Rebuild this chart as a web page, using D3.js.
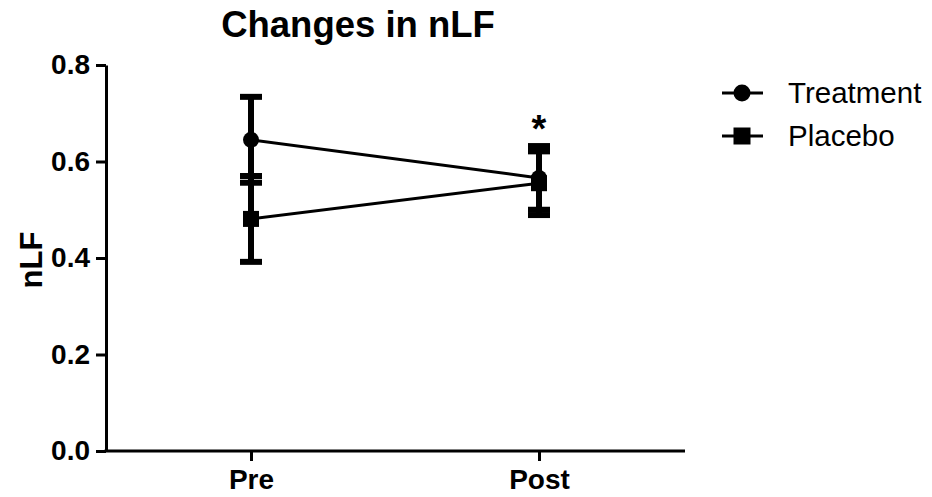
<!DOCTYPE html>
<html><head><meta charset="utf-8">
<script src="https://cdn.jsdelivr.net/npm/d3@7"></script>
<style>body{margin:0;background:#fff}svg{display:block}text{font-family:"Liberation Sans",Arial,sans-serif}</style>
</head><body>
<svg id="c" width="932" height="497"></svg>
<script>
const categories = ["Pre", "Post"];
const treatmentMean = [0.645, 0.566];
const treatmentSE = [0.089, 0.066];
const placeboMean = [0.481, 0.555];
const placeboSE = [0.089, 0.066];
const yTicks = [0.0, 0.2, 0.4, 0.6, 0.8];
const seriesNames = ["Treatment", "Placebo"];

const svg = d3.select("#c");
const x = d3.scalePoint().domain(categories).range([107, 683]).padding(0.5);
const y = d3.scaleLinear().domain([0, 0.8]).range([451, 65]);

// title
svg.append("text").attr("x", 358).attr("y", 37).attr("text-anchor", "middle")
  .attr("font-size", 36.5).attr("font-weight", "bold").text("Changes in nLF");

// y axis
const ya = svg.append("g").attr("transform", "translate(106,0)")
  .call(d3.axisLeft(y).tickValues(yTicks).tickFormat(d3.format(".1f")).tickSize(10).tickSizeOuter(0).tickPadding(6));
ya.select(".domain").attr("stroke", "#000").attr("stroke-width", 3);
ya.selectAll(".tick line").attr("stroke", "#000").attr("stroke-width", 3);
ya.selectAll(".tick text").attr("font-size", 28).attr("font-weight", "bold").attr("fill", "#000")
  .attr("font-family", "Liberation Sans, Arial, sans-serif");

// x axis
const xa = svg.append("g").attr("transform", "translate(0,451)")
  .call(d3.axisBottom(x).tickSize(10).tickSizeOuter(0).tickPadding(8));
xa.select(".domain").attr("d", "M104.5,0H685").attr("stroke", "#000").attr("stroke-width", 3);
xa.selectAll(".tick line").attr("stroke", "#000").attr("stroke-width", 3);
xa.selectAll(".tick text").attr("font-size", 28).attr("font-weight", "bold").attr("fill", "#000")
  .attr("font-family", "Liberation Sans, Arial, sans-serif").attr("y", 38).attr("dy", 0);

// y title
svg.append("text").attr("transform", "translate(42,260) rotate(-90)").attr("text-anchor", "middle")
  .attr("font-size", 31).attr("font-weight", "bold").text("nLF");

const series = [
  {name: seriesNames[0], mean: treatmentMean, se: treatmentSE, shape: "circle"},
  {name: seriesNames[1], mean: placeboMean, se: placeboSE, shape: "square"}
];

const line = d3.line().x((d, i) => x(categories[i])).y(d => y(d));
series.forEach(s => {
  svg.append("path").attr("d", line(s.mean)).attr("fill", "none").attr("stroke", "#000").attr("stroke-width", 3);
});

series.forEach(s => {
  s.mean.forEach((m, i) => {
    const cx = x(categories[i]);
    const g = svg.append("g");
    g.append("line").attr("x1", cx).attr("x2", cx).attr("y1", y(m + s.se[i])).attr("y2", y(m - s.se[i]))
      .attr("stroke", "#000").attr("stroke-width", 6);
    [m + s.se[i], m - s.se[i]].forEach(v => {
      g.append("line").attr("x1", cx - 11).attr("x2", cx + 11).attr("y1", y(v)).attr("y2", y(v))
        .attr("stroke", "#000").attr("stroke-width", 6);
    });
  });
});

function marker(g, shape, cx, cy, size) {
  if (shape === "circle") g.append("circle").attr("cx", cx).attr("cy", cy).attr("r", size / 2).attr("fill", "#000");
  else g.append("rect").attr("x", cx - size / 2).attr("y", cy - size / 2).attr("width", size).attr("height", size).attr("fill", "#000");
}
series.forEach(s => {
  s.mean.forEach((m, i) => marker(svg, s.shape, x(categories[i]), y(m), 16));
});

// significance asterisk
svg.append("text").attr("x", x("Post")).attr("y", 142).attr("text-anchor", "middle")
  .attr("font-size", 38).attr("font-weight", "bold").text("*");

// legend
series.forEach((s, i) => {
  const ly = 93 + i * 43;
  const g = svg.append("g");
  g.append("line").attr("x1", 722).attr("x2", 763).attr("y1", ly).attr("y2", ly).attr("stroke", "#000").attr("stroke-width", 3);
  marker(g, s.shape, 742, ly, 17);
  g.append("text").attr("x", 788).attr("y", ly + 10).attr("font-size", 29.5).text(s.name);
});
</script>
</body></html>
